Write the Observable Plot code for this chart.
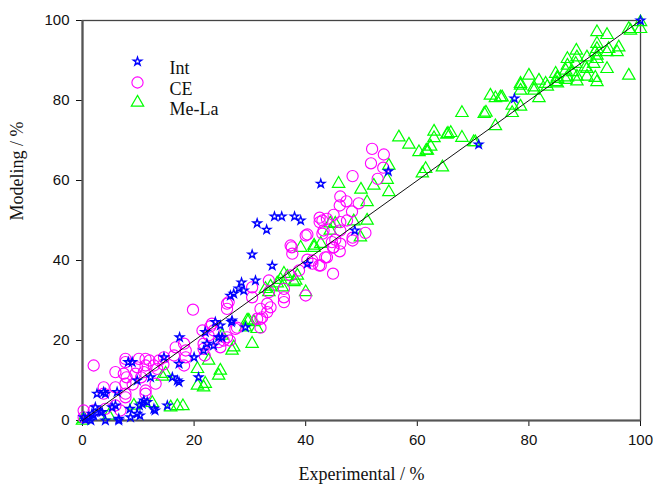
<!DOCTYPE html>
<html><head><meta charset="utf-8">
<script src="https://cdn.jsdelivr.net/npm/d3@7"></script>
<script src="https://cdn.jsdelivr.net/npm/@observablehq/plot@0.6"></script>
<style>body{margin:0;background:#fff} svg{display:block}</style>
</head><body><div id="chart"></div>
<script>
const seriesNames = ["Int", "CE", "Me-La"];
const xTicks = [0, 20, 40, 60, 80, 100];
const yTicks = [0, 20, 40, 60, 80, 100];
const xTitle = "Experimental / %";
const yTitle = "Modeling / %";
const lineX = [0, 100];
const lineY = [0, 100];

const intX = [100,77.4,71,54.8,48.8,42.7,31.3,33,34.4,35.7,38,39.1,34,40.3,30.4,31,28,28.9,26.5,27.1,26.7,29.2,23.8,24.7,25,23.5,22.3,21.7,20,20.8,17.4,17.3,16.1,17,17.3,14.6,15.2,12.8,11.6,10.7,10.2,9.8,8.6,8.9,9.8,12.2,5.9,6.5,6.2,3.8,2.6,2.3,3.2,1.7,1.1,1.5,0.2,4.1,0.5,11,26.8,22,24.4,28.5,8.2,4.1,13,8.5,10.3,6.5,2,3.5,5.3];
const intY = [100,80.5,69,62.3,47.5,59.2,49.3,47.7,51,51,51,50,38.7,39.2,41.5,35,33,32.5,31.2,31.7,24.6,23.3,24.6,23.75,20.8,18.75,19.2,17.5,15.8,10.8,20.8,14.2,10.8,10,9.6,15.8,3.75,2.9,4.6,4.2,3.75,1.7,0.8,14.6,10,10.8,3.75,0,7.1,7.1,6.7,3.3,2.1,1.7,0.8,0,0.8,0,0.2,5,25,22.1,20.8,34.5,14.6,6.7,2.5,2.9,1.25,0.4,1.25,2.1,3.3];

const ceX = [51.9,54,51.7,53.9,52.9,48.4,46.2,47.3,49.5,46.1,48.3,45,43.8,43,47.4,46.2,43.2,46.2,50.7,48.4,45.3,46.2,42.5,42.5,40,43,37.5,44.9,43.5,46.1,44.9,42.7,48.4,45,40.3,37.3,37.6,44.7,43.8,41.2,42.4,40.3,38.8,37.3,36.1,36.1,33.1,33.4,41.2,40,36.1,33.7,33.1,31.9,31.9,31.9,30.4,25.9,25.9,19.8,27.4,26.4,24.4,24.7,23.2,22.6,21.5,21.7,21.9,18.2,18.5,18.5,18.2,16.7,14.6,13.7,12.8,13.4,11.3,11.3,11,10.1,9.8,9.5,11.3,11.3,13.1,7.4,7.7,7.7,7.9,7.7,7.7,7.7,5.9,5.9,5.9,3.8,3.8,2,2,0.2,0.2,6.8,4.1,16.4,12,14.5,9,10.5,30.4,26.2,33.4,32.2,31.3,27.7,22.9,25.3,25.9,21.7,23.5];
const ceY = [67.9,66.5,64.3,63.2,60.4,61.1,56,54.8,54.3,53.75,52.25,51.4,50.4,50,50,49.6,47.5,47.5,46.9,45.7,45.2,44.2,50.7,49.6,46.25,46.7,43.3,36.7,40.8,42.3,43.2,38.75,45,43.3,46.5,43.75,41.7,44.6,40.8,40,38.75,40.2,37.5,36.25,32.9,29.6,29.2,35,39.2,31.25,30.8,28.3,27.1,27.9,25.4,23.2,30.8,29.2,27.9,27.7,22.9,20,19.6,18.3,24.2,21.25,22.5,17.9,16.25,19.2,17.5,15.8,13.75,18.3,15.8,15,13.75,12.9,15.4,13.75,12.1,15.4,13.3,11.7,7.5,6.7,9.2,11.7,15.4,14.6,10.8,9.2,6.7,5.8,12.1,8.3,3.75,8.3,6.7,13.75,2.5,2.5,0.8,2.5,2.9,16.25,15,14,9,10.8,33.3,29.6,32.1,25.8,25.4,23.2,23.5,20,20.8,19.2,22.5];

const mlX = [100,100,98.2,97.9,92.2,94,96.1,95.8,94,92.2,91.9,88.5,88.6,86.9,90.4,92.2,91.6,88.4,86.9,94,90.4,86.6,84.8,85.1,86.9,88.6,90.4,91.9,86.6,88.6,92.2,85.1,83,80,81.8,83.3,78.5,78.5,80.9,81.8,77,78.5,77,73.1,74,74.9,68,72,72.3,74,70.4,68,65.3,66,63,63,62.4,61.6,60.3,58.5,56.7,61.5,60.9,64.5,54.9,54.6,54.9,52.2,49.9,45.9,51,48.6,51,49.8,44.4,44.4,45.3,42.7,41.5,39.1,41.5,36.1,36.7,35.5,38.5,37.9,34.9,35.8,33.7,32.8,33.4,40,38.2,29.8,30.7,31.3,29.2,30.4,27.1,26.8,25,22.6,20.6,20.6,22,21.7,24.7,24.4,18,17,15.8,14.3,14.9,12.5,9.2,4.7,0,0.3,97.9,94.3,92.2,90.1,87.8,85.1,84.8,80.9,78.5,75.2,61.8,65.5,70.1,92.2,29.5];
const mlY = [97.9,99.6,97.5,86.25,97.1,96.4,93.3,92.1,92.1,94.2,92.1,92.5,90.8,90.4,90.8,90.4,89.2,89.2,88.75,87.9,87.9,87.5,86.7,85.8,85.8,86,86,85.7,85.2,84.8,84.6,84.3,84.2,86.25,85,83.5,83.75,82.5,82.5,80.6,78.75,78.5,76.9,81.25,80.6,80.8,76.9,76.7,77,73.6,69.6,70.7,71.5,71.9,72.25,70.6,68.5,67.5,67.1,69,70.8,62.9,61.8,63.3,63.75,60.2,57.1,58.75,57.75,59.2,54.6,49.8,50,45.8,49.3,47.5,49.2,44.2,43.2,43.2,43.75,36.7,36,35.2,36.25,34.6,34.3,33.3,33.5,32.9,32.1,32.1,35,25,24.6,22.9,23.3,19.2,18.3,17.5,21.25,15,12.9,8.75,9.2,8.3,12.5,11.25,3.6,3.6,3.3,11,11.7,4.4,3.75,1.25,0,0.4,97.9,92.9,91.25,88.3,87.1,85.4,84.6,83.3,84.2,80.8,67.5,71.7,69.6,92.9,25];

const rows = (xs, ys) => xs.map((x, i) => ({x, y: ys[i]}));
const intData = rows(intX, intY);
const ceData = rows(ceX, ceY);
const mlData = rows(mlX, mlY);
const lineData = rows(lineX, lineY);

const serif = "'Liberation Serif', 'Times New Roman', serif";
const sans = "'Liberation Sans', Arial, sans-serif";
const colors = {"Int": "#0000ff", "CE": "#ff00ff", "Me-La": "#00ff00"};
const starStyle = {symbol: "star", r: 2.6, stroke: colors["Int"], fill: "none", strokeWidth: 1.4};
const ceStyle = {symbol: "circle", r: 5.6, stroke: colors["CE"], fill: "none", strokeWidth: 1.1};
const mlStyle = {symbol: "triangle", r: 4.6, stroke: colors["Me-La"], fill: "none", strokeWidth: 1.2};

const chart = Plot.plot({
  width: 653, height: 486,
  marginLeft: 82, marginRight: 13, marginTop: 20, marginBottom: 66,
  style: {background: "white", fontFamily: sans, fontSize: "15px", color: "#111"},
  x: {domain: [0, 100], ticks: xTicks, tickSize: 6, tickPadding: 8, label: null},
  y: {domain: [0, 100], ticks: yTicks, tickSize: 6, tickPadding: 7, label: null},
  marks: [
    Plot.frame({stroke: "#444", strokeWidth: 1.3}),
    Plot.ruleX([0], {stroke: "#555", strokeWidth: 2.2}),
    Plot.ruleY([0], {stroke: "#555", strokeWidth: 2.2}),
    Plot.dot(mlData, {x: "x", y: "y", ...mlStyle}),
    Plot.dot(ceData, {x: "x", y: "y", ...ceStyle}),
    Plot.dot(intData, {x: "x", y: "y", ...starStyle}),
    Plot.line(lineData, {x: "x", y: "y", stroke: "#111", strokeWidth: 1}),
    // legend
    Plot.dot([seriesNames[0]], {frameAnchor: "top-left", dx: 55, dy: 41, ...starStyle}),
    Plot.dot([seriesNames[1]], {frameAnchor: "top-left", dx: 55, dy: 62, ...ceStyle}),
    Plot.dot([seriesNames[2]], {frameAnchor: "top-left", dx: 55, dy: 82, ...mlStyle}),
    Plot.text([seriesNames[0]], {frameAnchor: "top-left", dx: 87, dy: 41, text: d => d, textAnchor: "start", fontFamily: serif, fontSize: 18, fill: "#111"}),
    Plot.text([seriesNames[1]], {frameAnchor: "top-left", dx: 87, dy: 62, text: d => d, textAnchor: "start", fontFamily: serif, fontSize: 18, fill: "#111"}),
    Plot.text([seriesNames[2]], {frameAnchor: "top-left", dx: 87, dy: 82, text: d => d, textAnchor: "start", fontFamily: serif, fontSize: 18, fill: "#111"}),
    // axis titles
    Plot.text([xTitle], {frameAnchor: "bottom", dy: 59, text: d => d, fontFamily: serif, fontSize: 18, fill: "#111"}),
    Plot.text([yTitle], {frameAnchor: "left", dx: -65, rotate: -90, text: d => d, fontFamily: serif, fontSize: 18, fill: "#111"})
  ]
});
document.getElementById("chart").appendChild(chart);
</script>
</body></html>
